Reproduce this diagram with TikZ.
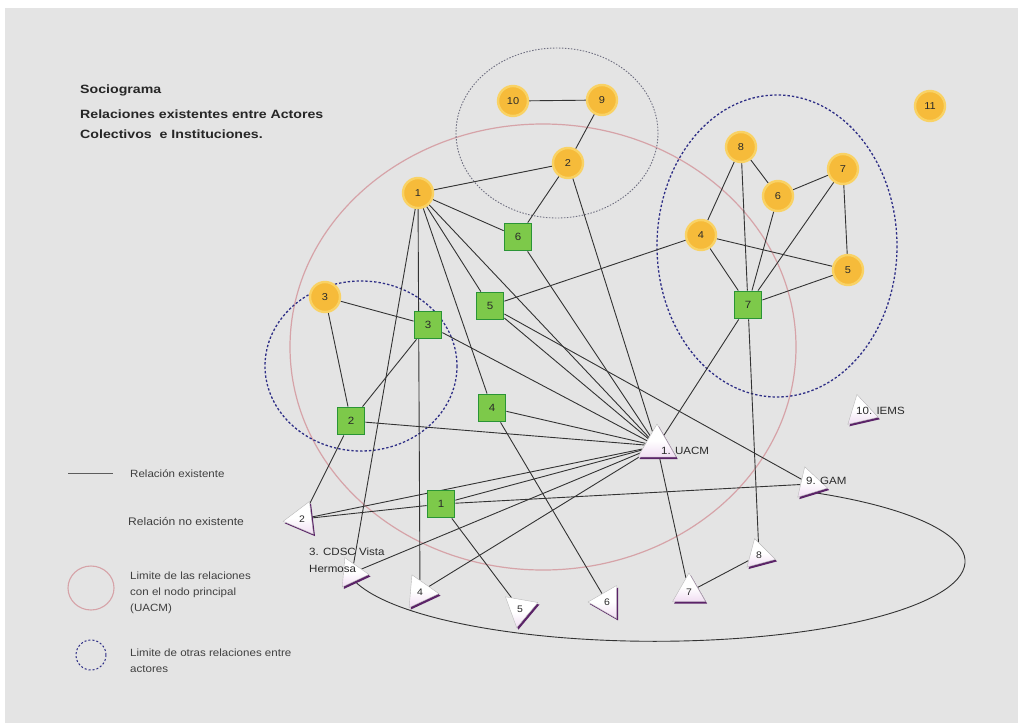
\documentclass[tikz,border=0pt]{standalone}
\usepackage{fontspec}
\setmainfont{Liberation Sans}[FakeStretch=1.1]
\newfontfamily\titlefont{Liberation Sans}[FakeStretch=1.18]
\usetikzlibrary{shapes.geometric,shadows}
\definecolor{bgc}{HTML}{E4E4E4}
\definecolor{ornfill}{HTML}{F6BB3A}
\definecolor{ornedge}{HTML}{F9D264}
\definecolor{grnfill}{HTML}{7DC94A}
\definecolor{grnedge}{HTML}{2A9436}
\definecolor{trifill}{HTML}{F0DDF2}
\definecolor{tripurple}{HTML}{5B2368}
\definecolor{edgecol}{HTML}{333333}
\definecolor{pinkc}{HTML}{D6A3A8}
\definecolor{bluec}{HTML}{2E2E86}
\definecolor{grayc}{HTML}{6E6E80}
\definecolor{txtc}{HTML}{2A2A2A}
\pgfdeclarelayer{bgl}
\pgfdeclarelayer{edl}
\pgfsetlayers{bgl,edl,main}
\begin{document}
\begin{tikzpicture}[x=1pt,y=-1pt,
  orn/.style={circle, fill=ornfill, draw=ornedge, line width=2.4pt, minimum size=30pt, inner sep=0pt, text=txtc, font=\fontsize{10}{10}\selectfont},
  grn/.style={rectangle, fill=grnfill, draw=grnedge, line width=1.8pt, minimum size=27pt, inner sep=0pt, text=txtc, font=\fontsize{10.5}{10.5}\selectfont},
  tri/.style={regular polygon, regular polygon sides=3, minimum size=38pt, inner sep=0pt, draw=gray!55, line width=0.4pt, top color=white, bottom color=trifill, middle color=white, drop shadow={shadow xshift=1.6pt, shadow yshift=-2pt, fill=tripurple, opacity=1}, text=txtc, font=\fontsize{9.5}{9.5}\selectfont},
  rel/.style={draw=edgecol, line width=0.9pt},
  lbl/.style={inner sep=0pt, text=txtc, font=\fontsize{10.5}{10.5}\selectfont},
  leg/.style={inner sep=0pt, anchor=base west, text=txtc!90, font=\fontsize{10.5}{10.5}\selectfont},
  ttl/.style={inner sep=0pt, anchor=base west, text=black!85, font=\titlefont\bfseries\fontsize{12}{12}\selectfont},
  bigring/.style={draw=pinkc, line width=1.2pt},
  blring/.style={draw=bluec, line width=1.3pt, dash pattern=on 2.4pt off 2pt},
  grring/.style={draw=grayc, line width=0.9pt, dash pattern=on 1.5pt off 1.5pt}
]
\useasboundingbox (0,0) rectangle (1018,723);
\begin{pgfonlayer}{bgl}
\fill[white] (0,0) rectangle (1018,723);
\fill[bgc] (5,8) rectangle (1018,723);
\draw[bigring] (543,347) ellipse [x radius=253, y radius=223];
\draw[grring] (557,133) ellipse [x radius=101, y radius=85];
\draw[blring] (361,366) ellipse [x radius=96, y radius=85];
\draw[blring] (777,246) ellipse [x radius=120, y radius=151];
% legend
\draw[draw=pinkc, line width=1.1pt] (91,588) ellipse [x radius=23, y radius=22];
\draw[draw=bluec, line width=1pt, dash pattern=on 2pt off 2pt] (91,655) ellipse [x radius=15, y radius=15];
\draw[draw=edgecol!80, line width=0.8pt] (68,473) -- (113,473);
\end{pgfonlayer}

% title
\node[ttl] (title1) at (80,93) {Sociograma};
\node[ttl] (title2) at (80,118) {Relaciones existentes entre Actores};
\node[ttl] (title3) at (80,138) {Colectivos\ \ e Instituciones.};

% legend texts
\node[leg] (lg1) at (130,477) {Relación existente};
\node[leg, font=\fontsize{11}{11}\selectfont] (lg2) at (128,525) {Relación no existente};
\node[leg] (lg3) at (130,579) {Limite de las relaciones};
\node[leg] (lg4) at (130,595) {con el nodo principal};
\node[leg] (lg5) at (130,611) {(UACM)};
\node[leg] (lg6) at (130,656) {Limite de otras relaciones entre};
\node[leg] (lg7) at (130,672) {actores};

% orange circles
\node[orn] (o10) at (513,101) {10};
\node[orn] (o9) at (602,100) {9};
\node[orn] (o2) at (568,163) {2};
\node[orn] (o1) at (418,193) {1};
\node[orn] (o3) at (325,297) {3};
\node[orn] (o8) at (741,147) {8};
\node[orn] (o6) at (778,196) {6};
\node[orn] (o7) at (843,169) {7};
\node[orn] (o4) at (701,235) {4};
\node[orn] (o5) at (848,270) {5};
\node[orn] (o11) at (930,106) {11};

% green squares
\node[grn] (g6) at (518,237) {6};
\node[grn] (g5) at (490,306) {5};
\node[grn] (g3) at (428,325) {3};
\node[grn] (g2) at (351,421) {2};
\node[grn] (g4) at (492,408) {4};
\node[grn] (g1) at (441,504) {1};
\node[grn] (g7) at (748,305) {7};

% triangles
\node[tri, minimum size=44pt] (t1) at (657,446) {};
\node[tri, shape border rotate=13, minimum size=36pt] (t10) at (861,412) {};
\node[tri, shape border rotate=17, minimum size=36pt] (t9) at (810,484) {};
\node[tri, shape border rotate=97] (t2) at (302,519) {2};
\node[tri, shape border rotate=25, minimum size=34pt] (t3) at (352,573) {};
\node[tri, shape border rotate=25] (t4) at (420,592) {4};
\node[tri, shape border rotate=170] (t5) at (520,609) {5};
\node[tri, shape border rotate=90] (t6) at (607,602) {6};
\node[tri] (t7) at (689,592) {7};
\node[tri, shape border rotate=15, minimum size=34pt] (t8) at (759,555) {8};

% triangle labels
\node[lbl, anchor=west] (l1) at (661,451) {1. UACM};
\node[lbl, anchor=west] (l10) at (856,411) {10. IEMS};
\node[lbl, anchor=west] (l9) at (806,481) {9. GAM};
\node[lbl, anchor=west] (l3a) at (309,552) {3. CDSC Vista};
\node[lbl, anchor=west] (l3b) at (309,569) {Hermosa};

\begin{pgfonlayer}{edl}
\draw[rel] (o10) -- (o9);
\draw[rel] (o9) -- (o2);
\draw[rel] (o1) -- (o2);
\draw[rel] (o2) -- (g6);
\draw[rel] (o1) -- (g6);
\draw[rel] (g6) -- (t1);
\draw[rel] (o2) -- (t1);
\draw[rel] (o1) -- (t1);
\draw[rel] (o1) -- (g5);
\draw[rel] (o1) -- (g4);
\draw[rel] (o1) -- (t3);
\draw[rel] (o1) -- (t4);
\draw[rel] (g5) -- (o4);
\draw[rel] (g5) -- (t1);
\draw[rel] (g5) -- (t9);
\draw[rel] (g3) -- (t1);
\draw[rel] (o3) -- (g3);
\draw[rel] (o3) -- (g2);
\draw[rel] (g3) -- (g2);
\draw[rel] (g2) -- (t1);
\draw[rel] (g2) -- (t2);
\draw[rel] (g4) -- (t1);
\draw[rel] (g4) -- (t6);
\draw[rel] (t2) -- (t1);
\draw[rel] (t2) -- (g1);
\draw[rel] (g1) -- (t1);
\draw[rel] (g1) -- (t9);
\draw[rel] (g1) -- (t5);
\draw[rel] (t3) -- (t1);
\draw[rel] (t4) -- (t1);
\draw[rel] (t1) -- (t7);
\draw[rel] (t7) -- (t8);
\draw[rel] (g7) -- (t8);
\draw[rel] (g7) -- (t1);
\draw[rel] (o8) -- (o4);
\draw[rel] (o8) -- (o6);
\draw[rel] (o8) -- (g7);
\draw[rel] (o6) -- (o7);
\draw[rel] (o6) -- (g7);
\draw[rel] (o7) -- (g7);
\draw[rel] (o7) -- (o5);
\draw[rel] (o4) -- (o5);
\draw[rel] (o4) -- (g7);
\draw[rel] (o5) -- (g7);
% large ellipse from 9. GAM round to 3. CDSC
\coordinate (e9) at (810,492);
\draw[rel] (e9) arc[start angle=-60, end angle=180, x radius=310, y radius=80];
\end{pgfonlayer}
\end{tikzpicture}
\end{document}
